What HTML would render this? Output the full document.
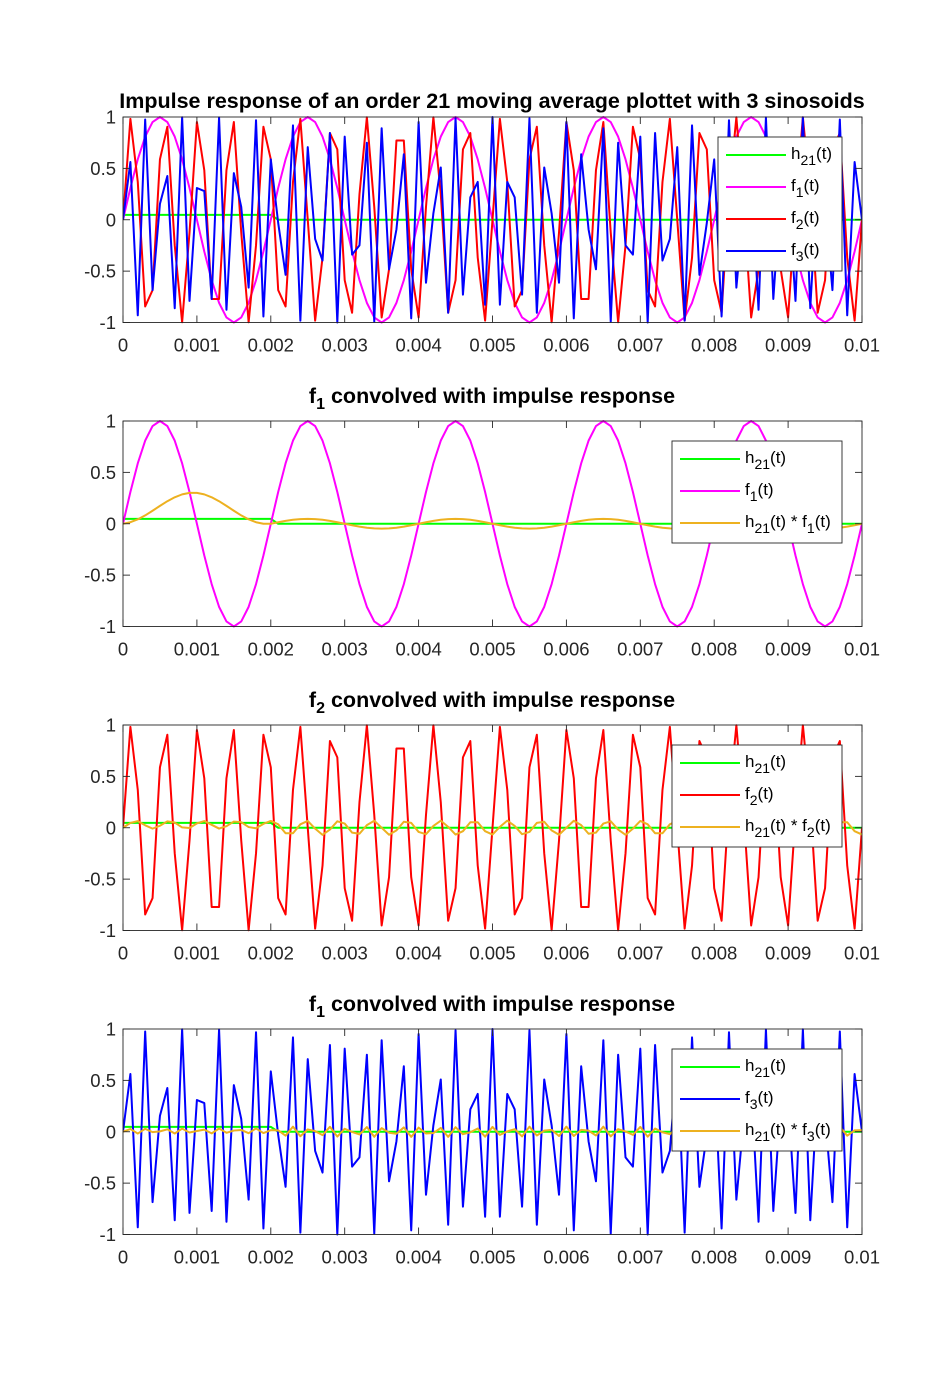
<!DOCTYPE html>
<html><head><meta charset="utf-8"><style>
html,body{margin:0;padding:0;background:#fff;}
svg{display:block;font-family:"Liberation Sans",sans-serif;}
</style></head><body>
<svg id="fig" width="952" height="1388" viewBox="0 0 952 1388" xmlns="http://www.w3.org/2000/svg"></svg>
<script>
const h21 = [0.0476,0.0476,0.0476,0.0476,0.0476,0.0476,0.0476,0.0476,0.0476,0.0476,0.0476,0.0476,0.0476,0.0476,0.0476,0.0476,0.0476,0.0476,0.0476,0.0476,0.0476,
0,0,0,0,0,0,0,0,0,0,0,0,0,0,0,0,0,0,0,0,0,0,0,0,0,0,0,0,0,0,0,0,0,0,0,0,0,0,0,0,0,0,0,0,0,0,0,0,0,0,0,0,0,0,0,0,0,0,0,0,0,0,0,0,0,0,0,0,0,0,0,0,0,0,0,0,0,0,0,0,0,0,0,0,0];
const f1 = [0,.309,.588,.809,.951,1,.951,.809,.588,.309,0,-.309,-.588,-.809,-.951,-1,-.951,-.809,-.588,-.309,
0,.309,.588,.809,.951,1,.951,.809,.588,.309,0,-.309,-.588,-.809,-.951,-1,-.951,-.809,-.588,-.309,
0,.309,.588,.809,.951,1,.951,.809,.588,.309,0,-.309,-.588,-.809,-.951,-1,-.951,-.809,-.588,-.309,
0,.309,.588,.809,.951,1,.951,.809,.588,.309,0,-.309,-.588,-.809,-.951,-1,-.951,-.809,-.588,-.309,
0,.309,.588,.809,.951,1,.951,.809,.588,.309,0,-.309,-.588,-.809,-.951,-1,-.951,-.809,-.588,-.309,0];
const f2 = [0,.982,.368,-.844,-.685,.588,.905,-.249,-.998,-.125,.951,.482,-.771,-.771,.482,.951,-.125,-.998,-.249,.905,
.588,-.685,-.844,.368,.982,0,-.982,-.368,.844,.685,-.588,-.905,.249,.998,.125,-.951,-.482,.771,.771,-.482,
-.951,.125,.998,.249,-.905,-.588,.685,.844,-.368,-.982,
0,.982,.368,-.844,-.685,.588,.905,-.249,-.998,-.125,.951,.482,-.771,-.771,.482,.951,-.125,-.998,-.249,.905,
.588,-.685,-.844,.368,.982,0,-.982,-.368,.844,.685,-.588,-.905,.249,.998,.125,-.951,-.482,.771,.771,-.482,
-.951,.125,.998,.249,-.905,-.588,.685,.844,-.368,-.982,0];
const f3 = [0,.562,-.930,.976,-.685,.156,.426,-.861,.998,-.790,.309,.279,-.771,.996,-.876,.454,.125,-.661,.969,-.941,
.588,-.031,-.536,.918,-.982,.707,-.187,-.397,.844,-1.0,.809,-.339,-.249,.750,-.992,.891,-.482,-.094,.637,-.960,
.951,-.613,.063,.509,-.905,.988,-.729,.218,.368,-.827,1,-.827,.368,.218,-.729,.988,-.905,.509,.063,-.613,
.951,-.960,.637,-.094,-.482,.891,-.992,.750,-.249,-.339,.809,-1.0,.844,-.397,-.187,.707,-.982,.918,-.536,-.031,
.588,-.941,.969,-.661,.125,.454,-.876,.996,-.771,.279,.309,-.790,.998,-.861,.426,.156,-.685,.976,-.930,.562,0];
const xTicks = [0,0.001,0.002,0.003,0.004,0.005,0.006,0.007,0.008,0.009,0.01];
const xTickLabels = ["0","0.001","0.002","0.003","0.004","0.005","0.006","0.007","0.008","0.009","0.01"];
const yTicks = [-1,-0.5,0,0.5,1];
const yTickLabels = ["-1","-0.5","0","0.5","1"];
const dt = 0.0001;

function conv(h,f){const out=[];for(let n=0;n<f.length;n++){let s=0;for(let k=0;k<=n;k++){s+=h[k]*f[n-k];}out.push(s);}return out;}

const NS="http://www.w3.org/2000/svg";
const svg=document.getElementById('fig');
function el(tag,attrs,parent){const e=document.createElementNS(NS,tag);for(const k in attrs)e.setAttribute(k,attrs[k]);(parent||svg).appendChild(e);return e;}

const L=123,R=862,H=205.5;
const C={g:'#00ff00',m:'#ff00ff',r:'#ff0000',b:'#0000ff',o:'#EDB120'};

function panel(idx,top,title,titleOff,series,legend,lg){
  const g=el('g',{});
  
  
  const X=t=>L+t/0.01*(R-L);
  const Y=v=>top+(1-v)/2*H;
  const bg=el('rect',{x:L,y:top,width:R-L,height:H,fill:'#fff'},g);
  
  
  const cp='clip'+idx;
  const cl=el('clipPath',{id:cp},g);el('rect',{x:L,y:top-1.5,width:R-L,height:H+3},cl);
  const sg=el('g',{'clip-path':'url(#'+cp+')'},g);
  series.forEach(s=>{
    const pts=s.d.map((v,i)=>X(i*dt).toFixed(2)+','+Y(v).toFixed(2)).join(' ');
    const p=el('polyline',{points:pts,fill:'none',stroke:s.c,'stroke-width':2,'stroke-linejoin':'round'},sg);
    
    
  });
  const ax=el('g',{stroke:'#262626','stroke-width':0.9,fill:'none'},g);
  
  
  el('rect',{x:L,y:top,width:R-L,height:H},ax);
  xTicks.forEach((t,i)=>{
    const x=X(t);
    el('line',{x1:x,y1:top+H,x2:x,y2:top+H-7},ax);
    el('line',{x1:x,y1:top,x2:x,y2:top+7},ax);
    const tx=el('text',{x:x,y:top+H+29,'text-anchor':'middle','font-size':18.5,fill:'#262626'},g);
    tx.textContent=xTickLabels[i];
    
    
  });
  yTicks.forEach((v,i)=>{
    const y=Y(v);
    el('line',{x1:L,y1:y,x2:L+7,y2:y},ax);
    el('line',{x1:R,y1:y,x2:R-7,y2:y},ax);
    const tx=el('text',{x:116,y:y+6.5,'text-anchor':'end','font-size':18.5,fill:'#262626'},g);
    tx.textContent=yTickLabels[i];
    
    
  });
  const tt=el('text',{x:492,y:top-titleOff,'text-anchor':'middle','font-size':21.5,'font-weight':'bold',fill:'#000'},g);
  tt.innerHTML=title;
  
  
  const lgG=el('g',{},g);
  
  
  el('rect',{x:lg.x,y:top+lg.dy,width:R-20-lg.x,height:lg.n*32+6,fill:'#fff',stroke:'#262626','stroke-width':0.9},lgG);
  legend.forEach((e,i)=>{
    const y=top+lg.dy+18+i*32;
    const eg=el('g',{},lgG);
    
    
    el('line',{x1:lg.x+8,y1:y,x2:lg.x+68,y2:y,stroke:e.c,'stroke-width':2},eg);
    const tx=el('text',{x:lg.x+73,y:y+4,'font-size':17,fill:'#000'},eg);
    tx.innerHTML=e.t;
  });
}
const sub=s=>'<tspan dy="6" font-size="14">'+s+'</tspan><tspan dy="-6">';
const hT='h'+sub('21')+'(t)</tspan>';
const fT=k=>'f'+sub(k)+'(t)</tspan>';
const cT=k=>'h'+sub('21')+'(t) * f</tspan>'+sub(k)+'(t)</tspan>';

const c1=conv(h21,f1),c2=conv(h21,f2),c3=conv(h21,f3);

panel(1,117,'Impulse response of an order 21 moving average plottet with 3 sinosoids',9,
 [{d:h21,c:C.g,name:'h21-line'},{d:f1,c:C.m,name:'f1-line'},{d:f2,c:C.r,name:'f2-line'},{d:f3,c:C.b,name:'f3-line'}],
 [{t:hT,c:C.g},{t:fT('1'),c:C.m},{t:fT('2'),c:C.r},{t:fT('3'),c:C.b}],{x:718,dy:20,n:4});
panel(2,421,'f<tspan dy="6" font-size="16">1</tspan><tspan dy="-6"> convolved with impulse response</tspan>',18,
 [{d:h21,c:C.g,name:'h21-line'},{d:f1,c:C.m,name:'f1-line'},{d:c1,c:C.o,name:'conv-f1-line'}],
 [{t:hT,c:C.g},{t:fT('1'),c:C.m},{t:cT('1'),c:C.o}],{x:672,dy:20,n:3});
panel(3,725,'f<tspan dy="6" font-size="16">2</tspan><tspan dy="-6"> convolved with impulse response</tspan>',18,
 [{d:h21,c:C.g,name:'h21-line'},{d:f2,c:C.r,name:'f2-line'},{d:c2,c:C.o,name:'conv-f2-line'}],
 [{t:hT,c:C.g},{t:fT('2'),c:C.r},{t:cT('2'),c:C.o}],{x:672,dy:20,n:3});
panel(4,1029,'f<tspan dy="6" font-size="16">1</tspan><tspan dy="-6"> convolved with impulse response</tspan>',18,
 [{d:h21,c:C.g,name:'h21-line'},{d:f3,c:C.b,name:'f3-line'},{d:c3,c:C.o,name:'conv-f3-line'}],
 [{t:hT,c:C.g},{t:fT('3'),c:C.b},{t:cT('3'),c:C.o}],{x:672,dy:20,n:3});
</script>
</body></html>
